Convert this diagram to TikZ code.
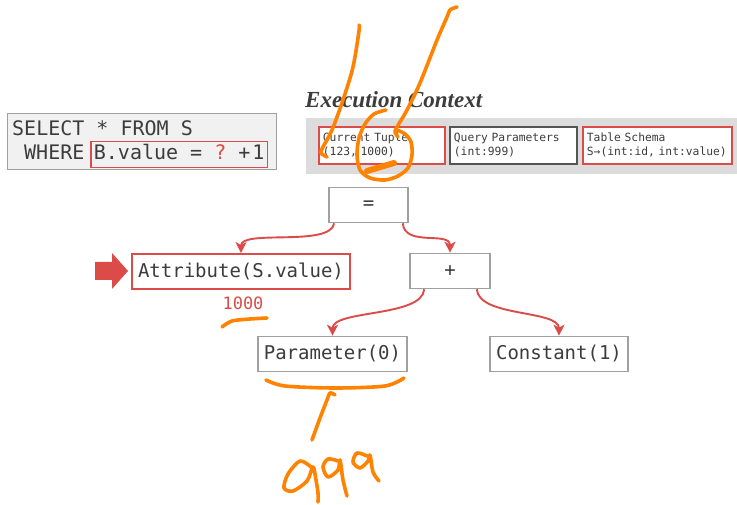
\documentclass[tikz,border=0pt]{standalone}
\usepackage{fontspec}
\setmonofont{DejaVu Sans Mono}
\newfontfamily\headfont{Liberation Serif}
\usetikzlibrary{arrows.meta}
\definecolor{accent}{HTML}{DB4B48}
\definecolor{ink}{HTML}{3C3C3C}
\definecolor{frame}{HTML}{A0A0A0}
\definecolor{darkframe}{HTML}{555555}
\definecolor{pen}{HTML}{FF8200}
\definecolor{band}{HTML}{DCDCDC}
\definecolor{sqlbg}{HTML}{F1F1F1}

\begin{document}
\begin{tikzpicture}[x=1pt,y=-1pt,
  treenode/.style={draw=frame, line width=1.6pt, fill=white, minimum height=35pt,
    inner xsep=6pt, font=\fontsize{19}{20}\ttfamily, text=ink},
  hot/.style={draw=accent, line width=1.9pt},
  ctxbox/.style={draw=accent, line width=1.8pt, fill=white, minimum height=37pt,
    align=left, inner xsep=4pt, font=\fontsize{11.3}{14}\ttfamily, text=ink,
    anchor=north west},
  edge/.style={accent, line width=1.9pt, -{Stealth[length=11pt,width=11pt,inset=3pt]}},
  handstroke/.style={pen, line width=3.6pt, line cap=round, line join=round},
]
\useasboundingbox (0,0) rectangle (737,505);

% --- query text ---
\node[draw=frame, line width=1.2pt, fill=sqlbg, minimum width=269pt, minimum height=56pt,
      anchor=north west, inner sep=0] (sqlbox) at (7,113) {};
\node[anchor=base west, inner sep=0, font=\fontsize{20}{20}\ttfamily, text=ink]
      (sqlA) at (12,136) {SELECT * FROM S};
\node[anchor=base west, inner sep=0, font=\fontsize{20}{20}\ttfamily, text=ink]
      (sqlB) at (24,160) {WHERE};
\node[draw=accent, line width=1.8pt, anchor=base west, inner xsep=3pt, inner ysep=3.5pt,
      text height=15pt, text depth=4pt, font=\fontsize{20}{20}\ttfamily, text=ink]
      (pred) at (90,160) {B.value = \textcolor{accent}{?} +\kern2pt1};

% --- execution context ---
\node[anchor=base west, inner sep=0, font=\headfont\bfseries\itshape\fontsize{23}{23}\selectfont,
      text=ink] (ctxtitle) at (305,108) {Execution Context};
\node[fill=band, minimum width=431pt, minimum height=56pt, anchor=north west, inner sep=0]
      (ctxband) at (306,118) {};
\node[ctxbox, minimum width=126pt, text width=118pt] (tuple) at (318,126)
      {Current Tuple\\(123, 1000)};
\node[ctxbox, draw=darkframe, minimum width=127pt, text width=119pt] (params) at (449,126)
      {Query Parameters\\(int:999)};
\node[ctxbox, minimum width=149pt, text width=141pt] (schema) at (582,126)
      {Table Schema\\S→(int:id, int:value)};

% --- expression tree ---
\node[treenode, minimum width=79pt] (eq) at (368.5,205) {=};
\node[treenode, hot, minimum width=216pt] (attr) at (241,271.5) {Attribute(S.value)};
\node[treenode, minimum width=80pt] (plus) at (450,271) {+};
\node[treenode, minimum width=149pt] (param) at (332.5,354) {Parameter(0)};
\node[treenode, minimum width=138pt] (const) at (559,354) {Constant(1)};

\draw[edge] ([xshift=6pt]eq.south west) .. controls +(-4,24) and +(0,-24) .. (attr.north);
\draw[edge] ([xshift=-6pt]eq.south east) .. controls +(2,24) and +(0,-22) .. (plus.north);
\draw[edge] ([xshift=15pt]plus.south west) .. controls +(-2,28) and +(0,-26) .. (param.north);
\draw[edge] ([xshift=-14pt]plus.south east) .. controls +(2,28) and +(0,-26) .. (const.north);

% pointer to the node being evaluated
\fill[accent] (95,262) -- (112,262) -- (112,253) -- (128,271) -- (112,289) -- (112,280)
      -- (95,280) -- cycle;
\node[font=\fontsize{17}{17}\ttfamily, text=accent, inner sep=0] (val) at (243,303) {1000};

% --- pen annotations ---
\draw[handstroke] plot[smooth] coordinates {(359,25) (359,31) (353,67) (343,100) (332,130)
      (323,147) (321,153) (327,157)};
\draw[handstroke] plot[smooth] coordinates {(457,7) (450,10) (447,17) (437,40) (420,83)
      (407,110) (397,127) (395,132) (398,137)};
\draw[handstroke] plot[smooth] coordinates {(386,110) (374,114) (365,124) (359,138) (357,155)
      (360,170) (370,178) (385,180) (398,176) (408,168) (412,155) (411,142) (405,134) (397,130)};
\draw[handstroke, line width=6pt] (367,171) -- (394,163);
\draw[handstroke] plot[smooth] coordinates {(222,327) (232,321) (250,319) (267,318)};
\draw[handstroke] plot[smooth] coordinates {(266,380) (285,386) (335,388) (385,386) (404,378)};
\draw[handstroke] plot[smooth] coordinates {(335,395) (330,393) (327,400) (320,418) (312,440)};
\draw[handstroke] plot[smooth] coordinates {(311,467) (300,461) (288,474) (284,488) (293,491)
      (307,481) (313,467) (316,480) (318,493) (318,502)};
\draw[handstroke] plot[smooth] coordinates {(338,461) (328,459) (323,467) (328,477) (338,470)
      (340,460) (343,480) (347,496)};
\draw[handstroke] plot[smooth] coordinates {(367,456) (357,453) (353,462) (360,468) (368,461)
      (370,455) (373,472) (379,481)};
\end{tikzpicture}
\end{document}
